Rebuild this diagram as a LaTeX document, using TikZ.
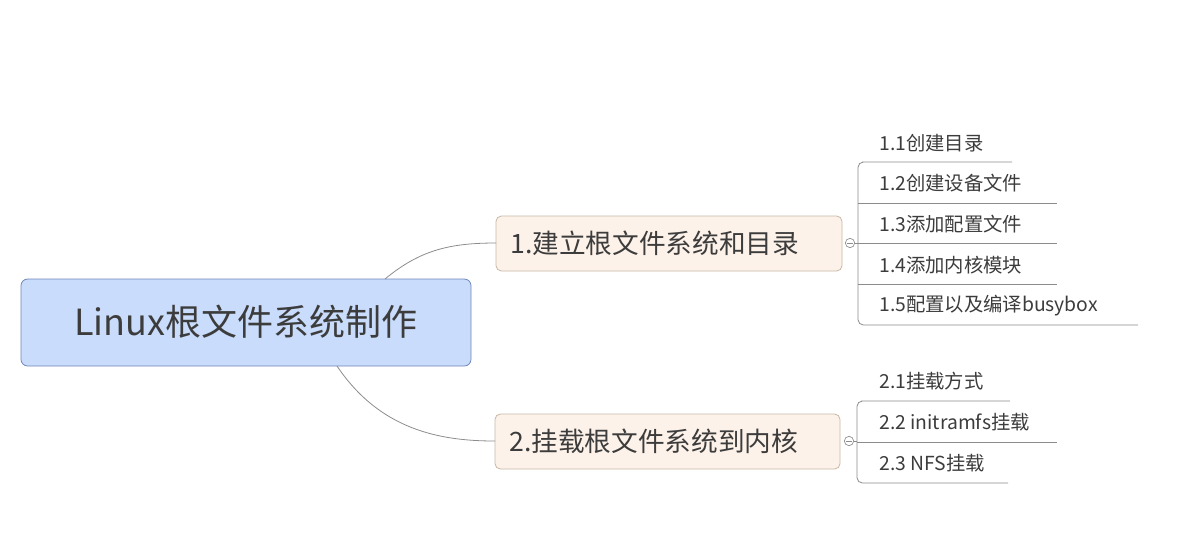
\documentclass[tikz,border=0pt]{standalone}
\usepackage{fontspec}
\newfontfamily\cjk{Noto Sans CJK SC}
\begin{document}
\begin{tikzpicture}[x=0.75pt,y=-0.75pt,
  rootbox/.style={draw=rootline,fill=rootfill,rounded corners=5pt,line width=0.6pt},
  brbox/.style={draw=brline,fill=brfill,rounded corners=4pt,line width=0.6pt},
  link/.style={draw=linkc,line width=0.6pt},
  txt/.style={text=txtc,inner sep=0pt,anchor=west},
  kid/.style={txt,font=\cjk\fontsize{14.5}{16}\selectfont}]
\definecolor{rootline}{HTML}{6F86B8}\definecolor{rootfill}{HTML}{C9DCFB}
\definecolor{brline}{HTML}{C8B8A6}\definecolor{brfill}{HTML}{FDF2E9}
\definecolor{linkc}{HTML}{8C8C8C}\definecolor{txtc}{HTML}{3C3C3C}
\useasboundingbox (0,0) rectangle (1180,551);
% root
\draw[rootbox] (21,279) rectangle (471,366);
\node[txt,anchor=center,font=\cjk\fontsize{27}{30}\selectfont] (root) at (246,322) {Linux根文件系统制作};
% branches
\draw[brbox] (496,216) rectangle (842,271);
\node[txt,font=\cjk\fontsize{20}{22}\selectfont] (b1) at (510,243) {1.建立根文件系统和目录};
\draw[brbox] (495,414) rectangle (840,469);
\node[txt,font=\cjk\fontsize{20}{22}\selectfont] (b2) at (509,441) {2.挂载根文件系统到内核};
\coordinate (r1) at (385,279); \coordinate (b1w) at (496,243);
\coordinate (r2) at (337,366); \coordinate (b2w) at (495,441);
\draw[link] (r1) .. controls (420,250) and (450,243) .. (b1w);
\draw[link] (r2) .. controls (380,430) and (440,441) .. (b2w);
% collapse circles
\node[draw=linkc,circle,inner sep=0pt,minimum size=7pt,line width=0.5pt] (c1) at (850,243) {};
\draw[linkc,line width=0.5pt] (847,243) -- (853,243);
\node[draw=linkc,circle,inner sep=0pt,minimum size=7pt,line width=0.5pt] (c2) at (849,441) {};
\draw[linkc,line width=0.5pt] (846,441) -- (852,441);
\coordinate (v1) at (858,243); \coordinate (v2) at (857,441);
\draw[link] (c1) -- (v1);
\draw[link] (c2) -- (v2);
% group 1
\draw[link] (1012,162) -- (862,162) [rounded corners=4pt] -- (858,162) -- (858,325) -- (1138,325);
\draw[link] (858,203) -- (1057,203);
\draw[link] (858,243) -- (1057,243);
\draw[link] (858,284) -- (1057,284);
\node[kid] (k11) at (879,143) {1.1创建目录};
\node[kid] (k12) at (879,183) {1.2创建设备文件};
\node[kid] (k13) at (879,224) {1.3添加配置文件};
\node[kid] (k14) at (879,265) {1.4添加内核模块};
\node[kid] (k15) at (879,306) {1.5配置以及编译busybox};
% group 2
\draw[link] (1010,401) -- (861,401) [rounded corners=4pt] -- (857,401) -- (857,483) -- (1008,483);
\draw[link] (857,442) -- (1057,442);
\node[kid] (k21) at (879,381) {2.1挂载方式};
\node[kid] (k22) at (879,422) {2.2 initramfs挂载};
\node[kid] (k23) at (879,463) {2.3 NFS挂载};
\end{tikzpicture}
\end{document}
